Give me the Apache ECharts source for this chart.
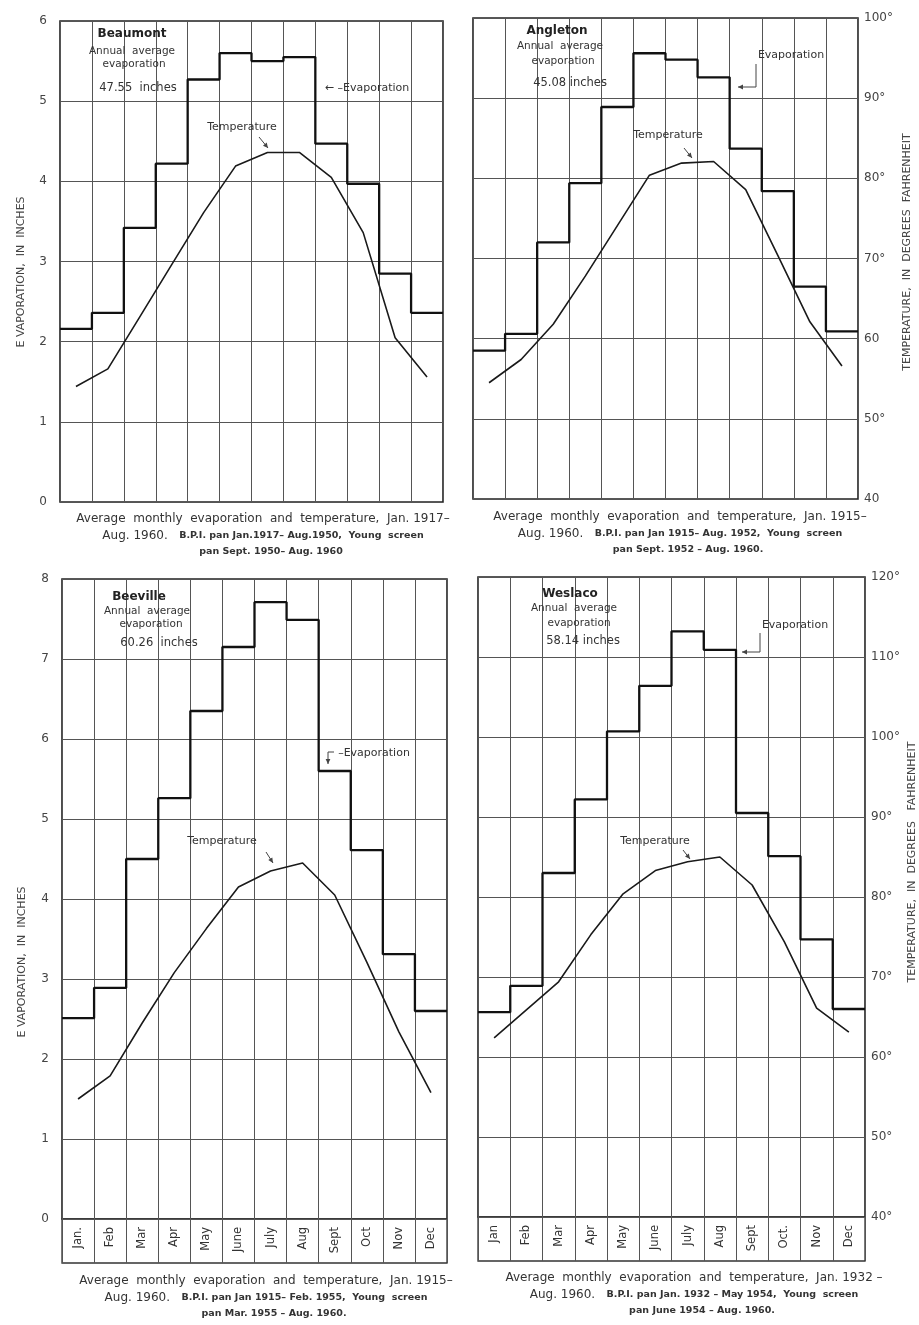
<!DOCTYPE html>
<html><head><meta charset="utf-8">
<script src="https://cdn.jsdelivr.net/npm/echarts@6/dist/echarts.min.js"></script>
<style>html,body{margin:0;padding:0;background:#fff}#c{width:919px;height:1325px}</style>
</head><body><div id="c"></div>
<script>
// ---------------- DATA ----------------
const months = ['Jan','Feb','Mar','Apr','May','June','July','Aug','Sept','Oct','Nov','Dec'];
const beevilleMonthLabels = ['Jan.','Feb','Mar','Apr','May','June','July','Aug','Sept','Oct','Nov','Dec'];
const weslacoMonthLabels = ['Jan','Feb','Mar','Apr','May','June','July','Aug','Sept','Oct.','Nov','Dec'];

const beaumontEvap = [2.16,2.36,3.42,4.22,5.27,5.60,5.50,5.55,4.47,3.97,2.85,2.36];
const beaumontTemp = [54.4,56.6,63.1,69.6,76.1,81.9,83.6,83.6,80.5,73.6,60.5,55.6];

const angletonEvap = [1.85,2.06,3.20,3.94,4.89,5.56,5.48,5.26,4.37,3.84,2.65,2.09];
const angletonTemp = [54.5,57.4,61.8,67.8,74.1,80.4,81.9,82.1,78.6,70.4,62.1,56.6];

const beevilleEvap = [2.51,2.89,4.50,5.26,6.35,7.15,7.71,7.49,5.60,4.61,3.31,2.60];
const beevilleTemp = [55.0,57.9,64.5,70.8,76.3,81.5,83.5,84.5,80.5,72.1,63.4,55.8];

const weslacoEvap = [2.56,2.89,4.30,5.22,6.07,6.64,7.32,7.09,5.05,4.51,3.47,2.60];
const weslacoTemp = [62.4,65.9,69.4,75.3,80.4,83.3,84.4,85.0,81.5,74.4,66.1,63.1];

const topTempTickLabels = ['40','50°','60','70°','80°','90°','100°'];
const bottomTempTickLabels = ['40°','50°','60°','70°','80°','90°','100°','110°','120°'];

// ---------------- LAYOUT ----------------
const FONT = 'DejaVu Sans';
const TXT = '#333';
const GRIDC = '#555';
const panels = [
  {grid:{left:60, top:21, width:383, height:481}, evap:beaumontEvap, temp:beaumontTemp, evapMax:6, tempMax:100, leftLabels:true, rightLabels:false, tickLabels:topTempTickLabels},
  {grid:{left:473, top:18, width:385, height:481}, evap:angletonEvap, temp:angletonTemp, evapMax:6, tempMax:100, leftLabels:false, rightLabels:true, tickLabels:topTempTickLabels},
  {grid:{left:62, top:579, width:385, height:640}, evap:beevilleEvap, temp:beevilleTemp, evapMax:8, tempMax:120, leftLabels:true, rightLabels:false, tickLabels:bottomTempTickLabels},
  {grid:{left:478, top:577, width:387, height:640}, evap:weslacoEvap, temp:weslacoTemp, evapMax:8, tempMax:120, leftLabels:false, rightLabels:true, tickLabels:bottomTempTickLabels}
];
const bands = [
  {grid:{left:62, top:1219, width:385, height:44}, labels:beevilleMonthLabels},
  {grid:{left:478, top:1217, width:387, height:44}, labels:weslacoMonthLabels}
];

const grids = [], xAxis = [], yAxis = [], series = [];
panels.forEach((p, i) => {
  grids.push(Object.assign({show:true, borderColor:'#222', borderWidth:1.6, backgroundColor:'#fff', containLabel:false, outerBoundsMode:'none'}, p.grid));
  xAxis.push({type:'value', gridIndex:i, min:0, max:12, interval:1,
    axisLine:{show:false}, axisTick:{show:false}, axisLabel:{show:false},
    splitLine:{show:true, lineStyle:{color:GRIDC, width:1}}});
  yAxis.push({type:'value', gridIndex:i, position:'left', min:0, max:p.evapMax, interval:1,
    axisLine:{show:false}, axisTick:{show:false},
    axisLabel:{show:p.leftLabels, color:'#444', fontSize:12, margin:13, fontFamily:FONT},
    splitLine:{show:true, lineStyle:{color:GRIDC, width:1}}});
  yAxis.push({type:'value', gridIndex:i, position:'right', min:40, max:p.tempMax, interval:10,
    axisLine:{show:false}, axisTick:{show:false}, splitLine:{show:false},
    axisLabel:{show:p.rightLabels, color:'#444', fontSize:12, margin:6, fontFamily:FONT,
      formatter: (v) => p.tickLabels[Math.round((v-40)/10)]}});
  const stepData = p.evap.map((v, k) => [k, v]);
  stepData.push([12, p.evap[11]]);
  series.push({type:'line', name:'Evaporation', xAxisIndex:i, yAxisIndex:2*i, step:'end',
    data:stepData, symbol:'none', lineStyle:{color:'#111', width:2.3}, silent:true, z:5});
  series.push({type:'line', name:'Temperature', xAxisIndex:i, yAxisIndex:2*i+1,
    data:p.temp.map((t, k) => [k+0.5, t]), symbol:'none', lineStyle:{color:'#1a1a1a', width:1.6}, silent:true, z:6});
});
bands.forEach((b, j) => {
  const gi = panels.length + j;
  grids.push(Object.assign({show:true, borderColor:'#333', borderWidth:1.3, backgroundColor:'#fff', containLabel:false, outerBoundsMode:'none'}, b.grid));
  xAxis.push({type:'category', gridIndex:gi, position:'top', data:b.labels,
    axisLine:{show:false}, axisTick:{show:false},
    axisLabel:{inside:true, rotate:90, margin:8, color:'#333', fontSize:11.5, fontFamily:FONT, interval:0},
    splitLine:{show:true, interval:0, lineStyle:{color:GRIDC, width:1}}});
  yAxis.push({type:'value', gridIndex:gi, show:false, min:0, max:1});
});

// ---------------- ANNOTATIONS ----------------
function txt(x, y, text, size, extra) {
  return Object.assign({type:'text', x:x, y:y, silent:true, z:50,
    style:Object.assign({text:text, fill:TXT, font:(size)+'px "'+FONT+'"', align:'center', verticalAlign:'middle'}, (extra||{}))});
}
function boldTxt(x, y, text, size) {
  return {type:'text', x:x, y:y, silent:true, z:50,
    style:{text:text, fill:'#222', font:'bold '+size+'px "'+FONT+'"', align:'center', verticalAlign:'middle'}};
}
function arrow(points, color) {
  const n = points.length;
  const [x1,y1] = points[n-2], [x2,y2] = points[n-1];
  const ang = Math.atan2(y2-y1, x2-x1), L = 5, W = 2.4;
  const bx = x2 - L*Math.cos(ang), by = y2 - L*Math.sin(ang);
  return [
    {type:'polyline', silent:true, z:50, shape:{points:points}, style:{stroke:color||'#444', lineWidth:1, fill:null}},
    {type:'polygon', silent:true, z:50, shape:{points:[[x2,y2],[bx - W*Math.sin(ang), by + W*Math.cos(ang)],[bx + W*Math.sin(ang), by - W*Math.cos(ang)]]}, style:{fill:color||'#444'}}
  ];
}
function rotTxt(x, y, text, size) {
  return {type:'text', x:x, y:y, rotation:Math.PI/2, silent:true, z:50,
    style:{text:text, fill:'#444', font:size+'px "'+FONT+'"', align:'center', verticalAlign:'middle'}};
}
function caption(cx, y0, l1, l2a, l2b, l3) {
  const rich = {a:{font:'12px "'+FONT+'"', fill:TXT}, b:{font:'bold 9.5px "'+FONT+'"', fill:'#333'}};
  return [
    {type:'text', x:cx, y:y0, silent:true, style:{text:'{a|'+l1+'}', rich:rich, align:'center', verticalAlign:'middle'}},
    {type:'text', x:cx, y:y0+17, silent:true, style:{text:'{a|'+l2a+'}{b|'+l2b+'}', rich:rich, align:'center', verticalAlign:'middle'}},
    {type:'text', x:cx+8, y:y0+33, silent:true, style:{text:'{b|'+l3+'}', rich:rich, align:'center', verticalAlign:'middle'}}
  ];
}

let graphic = [];
// Beaumont
graphic.push(boldTxt(132, 34, 'Beaumont', 12));
graphic.push(txt(132, 51, 'Annual  average', 10.5));
graphic.push(txt(134, 64, 'evaporation', 10.5));
graphic.push(txt(138, 88, '47.55  inches', 11.5));
graphic.push(txt(367, 88, '← –Evaporation', 11));
graphic.push(txt(242, 127, 'Temperature', 11));
graphic = graphic.concat(arrow([[259,137],[268,148]]));
// Angleton
graphic.push(boldTxt(557, 31, 'Angleton', 12));
graphic.push(txt(560, 46, 'Annual  average', 10.5));
graphic.push(txt(563, 61, 'evaporation', 10.5));
graphic.push(txt(570, 83, '45.08 inches', 11.5));
graphic.push(txt(791, 55, 'Evaporation', 11));
graphic = graphic.concat(arrow([[756,64],[756,87],[738,87]]));
graphic.push(txt(668, 135, 'Temperature', 11));
graphic = graphic.concat(arrow([[684,148],[692,158]]));
// Beeville
graphic.push(boldTxt(139, 597, 'Beeville', 12));
graphic.push(txt(147, 611, 'Annual  average', 10.5));
graphic.push(txt(151, 624, 'evaporation', 10.5));
graphic.push(txt(159, 643, '60.26  inches', 11.5));
graphic.push(txt(374, 753, '–Evaporation', 11));
graphic = graphic.concat(arrow([[334,752],[328,752],[328,764]]));
graphic.push(txt(222, 841, 'Temperature', 11));
graphic = graphic.concat(arrow([[266,852],[273,863]]));
// Weslaco
graphic.push(boldTxt(570, 594, 'Weslaco', 12));
graphic.push(txt(574, 608, 'Annual  average', 10.5));
graphic.push(txt(579, 623, 'evaporation', 10.5));
graphic.push(txt(583, 641, '58.14 inches', 11.5));
graphic.push(txt(795, 625, 'Evaporation', 11));
graphic = graphic.concat(arrow([[760,633],[760,652],[742,652]]));
graphic.push(txt(655, 841, 'Temperature', 11));
graphic = graphic.concat(arrow([[683,850],[690,859]]));

// axis titles
graphic.push(rotTxt(21, 272, 'E VAPORATION,  IN  INCHES', 11));
graphic.push(rotTxt(22, 962, 'E VAPORATION,  IN  INCHES', 11));
graphic.push(rotTxt(907, 252, 'TEMPERATURE,  IN  DEGREES  FAHRENHEIT', 11));
graphic.push(rotTxt(912, 862, 'TEMPERATURE,  IN  DEGREES   FAHRENHEIT', 11));

// captions
graphic = graphic.concat(caption(263, 519, 'Average  monthly  evaporation  and  temperature,  Jan. 1917–', 'Aug. 1960.   ', 'B.P.I. pan Jan.1917– Aug.1950,  Young  screen', 'pan Sept. 1950– Aug. 1960'));
graphic = graphic.concat(caption(680, 517, 'Average  monthly  evaporation  and  temperature,  Jan. 1915–', 'Aug. 1960.   ', 'B.P.I. pan Jan 1915– Aug. 1952,  Young  screen', 'pan Sept. 1952 – Aug. 1960.'));
graphic = graphic.concat(caption(266, 1281, 'Average  monthly  evaporation  and  temperature,  Jan. 1915–', 'Aug. 1960.   ', 'B.P.I. pan Jan 1915– Feb. 1955,  Young  screen', 'pan Mar. 1955 – Aug. 1960.'));
graphic = graphic.concat(caption(694, 1278, 'Average  monthly  evaporation  and  temperature,  Jan. 1932 –', 'Aug. 1960.   ', 'B.P.I. pan Jan. 1932 – May 1954,  Young  screen', 'pan June 1954 – Aug. 1960.'));

const chart = echarts.init(document.getElementById('c'), null, {renderer:'canvas'});
chart.setOption({
  backgroundColor:'#fff',
  animation:false,
  textStyle:{fontFamily:FONT},
  grid:grids, xAxis:xAxis, yAxis:yAxis, series:series,
  graphic:{elements:graphic}
});
</script></body></html>
